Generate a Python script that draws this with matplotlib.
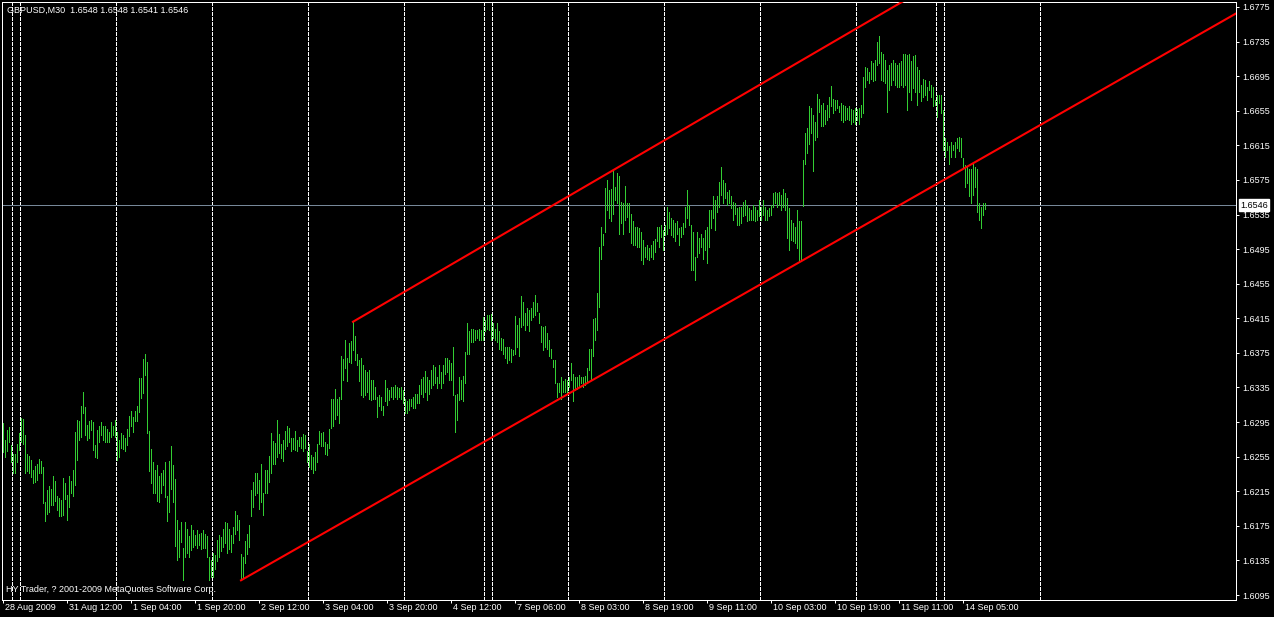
import numpy as np
import matplotlib
matplotlib.use('Agg')
import matplotlib.pyplot as plt

plt.rcParams['font.family'] = ['Liberation Sans', 'DejaVu Sans']

symbol_text = 'GBPUSD,M30  1.6548 1.6548 1.6541 1.6546'
copyright_text = 'HY Trader, ? 2001-2009 MetaQuotes Software Corp.'

# M30 bars, high / low in pips above 1.6000
high_pips = [
    294, 274, 286, 289, 268, 258, 258, 270, 282, 300,
    299, 280, 258, 256, 251, 240, 244, 247, 252, 250,
    243, 203, 216, 221, 218, 233, 227, 209, 207, 205,
    230, 224, 211, 233, 227, 240, 284, 297, 296, 314,
    330, 312, 292, 296, 297, 295, 268, 286, 290, 295,
    290, 290, 287, 284, 295, 291, 297, 284, 274, 282,
    280, 276, 287, 302, 308, 301, 308, 314, 346, 346,
    368, 374, 364, 285, 264, 249, 240, 245, 233, 236,
    240, 249, 210, 250, 267, 245, 229, 182, 170, 180,
    149, 180, 171, 163, 176, 170, 164, 170, 166, 167,
    170, 166, 163, 139, 135, 143, 141, 159, 164, 162,
    171, 179, 178, 171, 164, 174, 192, 188, 182, 142,
    139, 157, 166, 176, 216, 226, 236, 236, 228, 247,
    213, 240, 240, 256, 282, 273, 271, 297, 281, 270,
    274, 285, 290, 288, 276, 276, 285, 274, 278, 278,
    281, 280, 261, 270, 257, 255, 260, 270, 285, 282,
    284, 272, 270, 287, 322, 322, 333, 322, 324, 371,
    368, 390, 369, 386, 389, 411, 395, 374, 367, 369,
    361, 355, 353, 355, 344, 344, 336, 324, 326, 324,
    313, 344, 334, 332, 336, 335, 338, 336, 334, 336,
    332, 322, 319, 322, 322, 324, 327, 328, 338, 345,
    347, 354, 347, 344, 355, 361, 359, 347, 361, 353,
    361, 369, 369, 367, 363, 382, 326, 328, 347, 344,
    348, 376, 410, 400, 403, 403, 401, 401, 403, 401,
    417, 413, 419, 419, 420, 409, 403, 410, 400, 392,
    391, 382, 382, 382, 380, 378, 418, 407, 415, 441,
    434, 421, 427, 425, 427, 434, 442, 433, 421, 406,
    405, 406, 398, 390, 380, 367, 367, 340, 340, 347,
    342, 345, 344, 347, 363, 351, 347, 347, 349, 347,
    347, 348, 358, 379, 379, 414, 415, 444, 497, 521,
    513, 566, 575, 563, 564, 585, 567, 583, 580, 550,
    548, 568, 548, 548, 536, 527, 521, 521, 519, 515,
    505, 498, 500, 496, 500, 504, 507, 521, 521, 523,
    517, 523, 544, 538, 531, 529, 525, 527, 519, 521,
    525, 544, 563, 546, 523, 515, 486, 515, 508, 513,
    508, 517, 521, 540, 540, 556, 552, 556, 573, 590,
    575, 571, 561, 563, 556, 550, 548, 542, 544, 544,
    550, 552, 546, 542, 540, 546, 544, 540, 552, 544,
    552, 544, 540, 542, 546, 560, 561, 560, 561, 558,
    565, 560, 554, 542, 529, 525, 521, 540, 527, 527,
    598, 629, 635, 660, 658, 650, 642, 674, 669, 662,
    664, 656, 662, 671, 684, 669, 667, 667, 660, 664,
    662, 660, 658, 660, 657, 656, 658, 657, 658, 662,
    694, 706, 704, 700, 712, 710, 714, 735, 741, 723,
    721, 714, 702, 708, 710, 714, 710, 708, 710, 712,
    721, 721, 720, 721, 712, 718, 720, 706, 702, 685,
    692, 691, 683, 689, 685, 683, 667, 673, 673, 673,
    656, 623, 619, 614, 619, 615, 619, 623, 625, 623,
    600, 592, 590, 588, 588, 594, 590, 588, 548, 544,
    548, 548,
]
low_pips = [
    260, 255, 261, 272, 249, 236, 236, 249, 263, 272,
    270, 236, 238, 236, 232, 224, 226, 228, 236, 236,
    201, 181, 189, 191, 199, 199, 204, 193, 186, 186,
    187, 206, 182, 197, 213, 210, 222, 251, 274, 278,
    305, 280, 274, 276, 286, 263, 255, 254, 272, 280,
    274, 272, 272, 272, 278, 280, 278, 251, 255, 265,
    264, 261, 268, 279, 290, 283, 296, 296, 307, 323,
    329, 350, 282, 238, 225, 213, 213, 204, 203, 213,
    222, 208, 181, 191, 218, 203, 152, 136, 139, 156,
    112, 139, 144, 139, 147, 151, 153, 149, 153, 148,
    149, 149, 139, 112, 116, 116, 125, 134, 139, 146,
    151, 155, 144, 148, 145, 155, 166, 170, 159, 112,
    116, 132, 142, 151, 186, 197, 211, 213, 195, 203,
    188, 213, 213, 226, 236, 247, 247, 255, 259, 253,
    250, 264, 267, 272, 262, 264, 263, 262, 267, 265,
    261, 265, 249, 243, 241, 236, 240, 249, 270, 267,
    267, 258, 257, 265, 288, 290, 299, 303, 294, 322,
    344, 357, 342, 365, 363, 378, 367, 361, 342, 326,
    324, 326, 330, 322, 320, 322, 322, 301, 313, 309,
    303, 319, 315, 320, 324, 322, 324, 322, 324, 322,
    317, 305, 305, 309, 313, 311, 311, 317, 317, 328,
    324, 330, 320, 328, 334, 338, 340, 334, 340, 334,
    340, 351, 353, 344, 344, 326, 284, 297, 320, 322,
    319, 340, 374, 374, 388, 388, 390, 392, 390, 390,
    390, 400, 403, 401, 390, 392, 390, 388, 380, 378,
    374, 369, 363, 367, 365, 372, 374, 382, 371, 405,
    407, 401, 407, 400, 413, 417, 419, 423, 409, 388,
    378, 382, 380, 371, 369, 359, 340, 324, 330, 322,
    330, 330, 328, 336, 344, 319, 332, 333, 335, 340,
    336, 338, 340, 355, 344, 371, 390, 401, 428, 484,
    500, 515, 540, 531, 527, 536, 552, 548, 513, 525,
    513, 529, 532, 515, 502, 500, 500, 498, 498, 482,
    478, 486, 484, 482, 486, 484, 492, 504, 498, 509,
    494, 511, 513, 519, 511, 509, 504, 513, 500, 509,
    513, 521, 531, 523, 471, 471, 459, 486, 490, 498,
    484, 494, 479, 498, 519, 531, 517, 538, 544, 558,
    548, 554, 546, 548, 542, 529, 536, 523, 523, 525,
    533, 534, 527, 529, 529, 529, 527, 529, 533, 529,
    534, 529, 529, 533, 534, 544, 548, 544, 546, 540,
    544, 540, 508, 494, 506, 504, 502, 496, 480, 482,
    545, 594, 606, 617, 629, 585, 621, 625, 654, 637,
    637, 640, 644, 648, 660, 652, 656, 658, 654, 644,
    642, 644, 646, 644, 640, 642, 640, 644, 640, 648,
    652, 683, 691, 687, 692, 689, 691, 708, 710, 691,
    689, 687, 654, 679, 685, 691, 685, 683, 683, 685,
    683, 685, 656, 677, 667, 681, 677, 662, 677, 666,
    671, 673, 667, 679, 671, 660, 662, 648, 664, 652,
    610, 602, 610, 594, 602, 610, 602, 612, 608, 602,
    590, 567, 571, 556, 548, 558, 567, 538, 529, 519,
    534, 541,
]

tick_bars = [0, 32, 64, 96, 128, 160, 192, 224, 256, 288, 320, 352, 384, 416, 448, 480]
tick_labels = ['28 Aug 2009', '31 Aug 12:00', '1 Sep 04:00', '1 Sep 20:00', '2 Sep 12:00',
               '3 Sep 04:00', '3 Sep 20:00', '4 Sep 12:00', '7 Sep 06:00', '8 Sep 03:00',
               '8 Sep 19:00', '9 Sep 11:00', '10 Sep 03:00', '10 Sep 19:00', '11 Sep 11:00',
               '14 Sep 05:00']
# first bar of each day (period separators)
separator_bars = [4, 8, 56, 104, 152, 200, 240, 244, 282, 330, 378, 426, 466, 470, 518]
price_ticks = [1.6095, 1.6135, 1.6175, 1.6215, 1.6255, 1.6295, 1.6335, 1.6375, 1.6415,
               1.6455, 1.6495, 1.6535, 1.6575, 1.6615, 1.6655, 1.6695, 1.6735, 1.6775]
bid = 1.6546
# channel lines: two points each (bar index, price)
lower_bars = [119, 500]
lower_prices = [1.6112, 1.6614]
upper_bars = [175, 434]
upper_prices = [1.6411, 1.6760]

high = 1.6 + np.array(high_pips) / 10000
low = 1.6 + np.array(low_pips) / 10000
bars = np.arange(len(high))

fig = plt.figure(figsize=(12.74, 6.17), dpi=100, facecolor='black')
ax = fig.add_axes([2 / 1274, 17 / 617, 1234 / 1274, 598 / 617], facecolor='black')

for b in separator_bars:
    ax.axvline(b + 0.25, color='white', lw=0.72, ls=(0, (4, 2)), antialiased=False, zorder=1)
ax.axhline(bid, color='#778899', lw=0.72, zorder=2)
ax.vlines(bars, low, high, color='#32cd32', lw=0.72, antialiased=False, zorder=3)

# rays to the right
for bx, py in [(lower_bars, lower_prices), (upper_bars, upper_prices)]:
    slope = (py[1] - py[0]) / (bx[1] - bx[0])
    x_end = 700
    ax.plot([bx[0], x_end], [py[0], py[0] + slope * (x_end - bx[0])], color='red', lw=1.5, zorder=4)

ax.set_xlim(-0.5, 616.5)
ax.set_ylim(1.608922, 1.678078)

for s in ax.spines.values():
    s.set_color('white')
    s.set_linewidth(0.72)

ax.set_xticks(tick_bars, [''] * len(tick_bars))
ax.tick_params(axis='x', colors='white', length=2.5, width=0.72, direction='out')
for b, lab in zip(tick_bars, tick_labels):
    ax.annotate(lab, xy=(b, 0), xycoords=('data', 'axes fraction'), xytext=(2, -3),
                textcoords='offset pixels', ha='left', va='top', color='white',
                fontsize=6.5, annotation_clip=False)

ax.yaxis.tick_right()
ax.set_yticks(price_ticks, ['%.4f' % v for v in price_ticks])
ax.tick_params(axis='y', colors='white', length=2.2, width=0.72, pad=2.5, labelsize=6.5)

ax.annotate('%.4f' % bid, xy=(1, bid), xycoords=('axes fraction', 'data'), xytext=(4, 0),
            textcoords='offset pixels', ha='left', va='center', color='black', fontsize=6.5,
            bbox=dict(boxstyle='square,pad=0.15', fc='white', ec='white'),
            annotation_clip=False, zorder=10)

fig.text(7 / 1274, 1 - 10 / 617, symbol_text, color='white', fontsize=6.5, va='center', ha='left')
fig.text(6 / 1274, 1 - 590 / 617, copyright_text, color='white', fontsize=6.5, va='center', ha='left')

fig.savefig('out.png', dpi=100, facecolor='black')
